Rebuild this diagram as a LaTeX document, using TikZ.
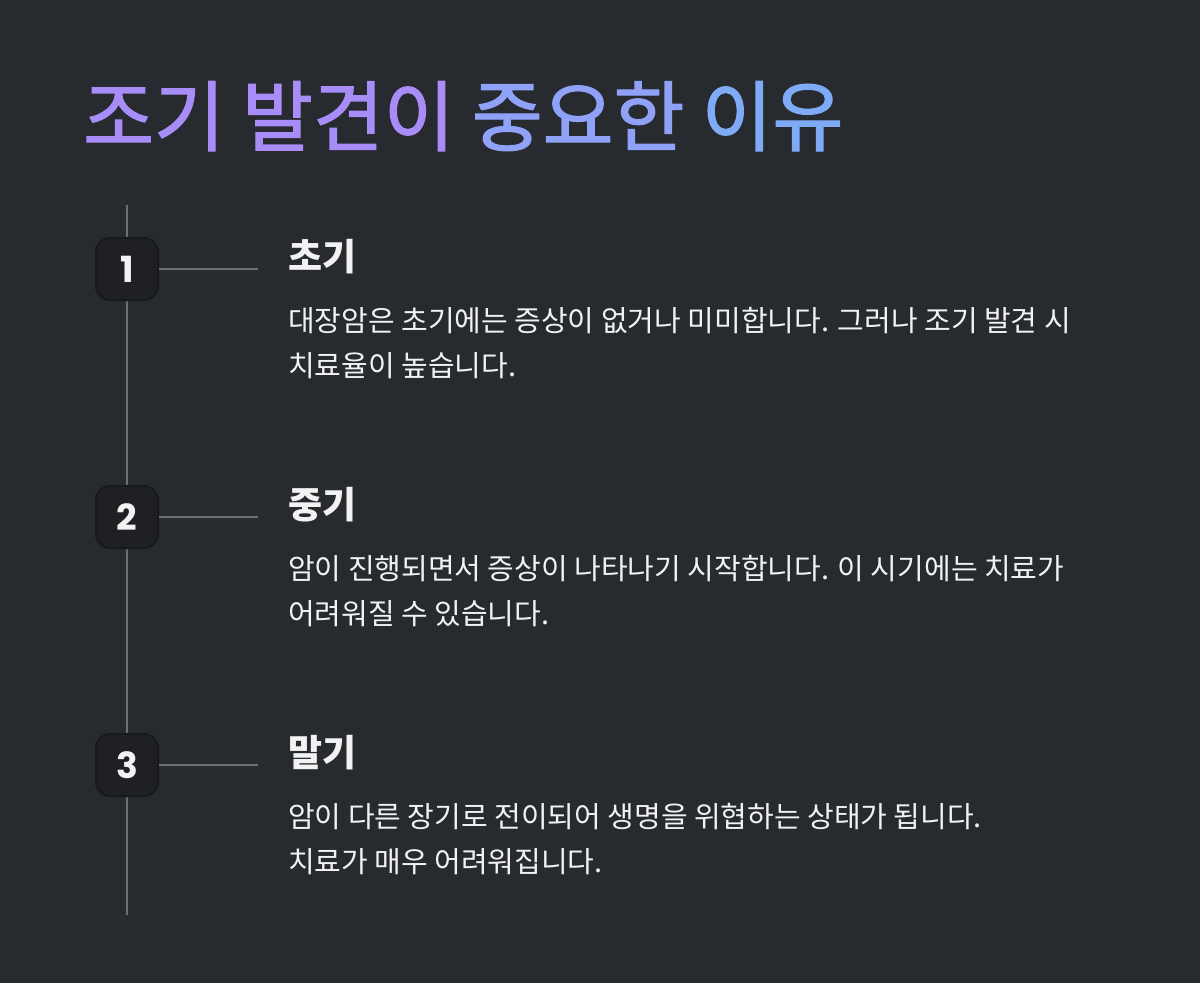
\documentclass[tikz,border=0pt]{standalone}
\usepackage{fontspec}
\setmainfont{Noto Sans CJK KR}
\newfontfamily\titlefont{Noto Sans CJK KR}[FakeBold=1.6]
\newfontfamily\numfont{Poppins}[BoldFont={* Bold}]
\definecolor{bg}{HTML}{272A2F}
\definecolor{rail}{HTML}{6B6E73}
\definecolor{badge}{HTML}{1E2024}
\definecolor{txt}{HTML}{F2F2F2}
\definecolor{tA}{HTML}{A88CF7}
\definecolor{tB}{HTML}{8FA2F7}
\definecolor{tC}{HTML}{7EAAF6}
\begin{document}
\begin{tikzpicture}[x=1pt,y=-1pt,
  badgebox/.style={rounded corners=14pt,fill=badge,draw=black!40!bg,line width=2pt,minimum width=62pt,minimum height=62pt,text=txt,font=\numfont\bfseries\fontsize{36}{36}\selectfont},
  head/.style={anchor=west,text=txt,font=\bfseries\fontsize{37}{37}\selectfont,inner sep=0},
  body/.style={anchor=north west,text=txt,align=left,font=\fontsize{29}{45}\selectfont,inner sep=0},
  conn/.style={draw=rail,line width=2.5pt}]
\fill[bg] (0,0) rectangle (1200,983);
\useasboundingbox (0,0) rectangle (1200,983);
\node[anchor=base west,inner sep=0,font=\titlefont\fontsize{77}{77}\selectfont] (title) at (83,145)
  {\textcolor{tA}{조기 발견이} \textcolor{tB}{중요한} \textcolor{tC}{이유}};
\coordinate (top) at (127,205);
\coordinate (bot) at (127,915);
\draw[conn] (top) -- (bot);
\foreach \i/\y/\h/\a/\b in {
 1/269/초기/대장암은 초기에는 증상이 없거나 미미합니다. 그러나 조기 발견 시/치료율이 높습니다.,
 2/517/중기/암이 진행되면서 증상이 나타나기 시작합니다. 이 시기에는 치료가/어려워질 수 있습니다.,
 3/765/말기/암이 다른 장기로 전이되어 생명을 위협하는 상태가 됩니다./치료가 매우 어려워집니다.}{
  \node[badgebox] (b\i) at (127,\y) {\i};
  \coordinate (e\i) at (258,\y);
  \draw[conn] (b\i.east) -- (e\i);
  \node[head] (h\i) at (288,\y-12) {\h};
  \node[body] (t\i) at (288,\y+38) {\a\\\b};
}
\end{tikzpicture}
\end{document}
